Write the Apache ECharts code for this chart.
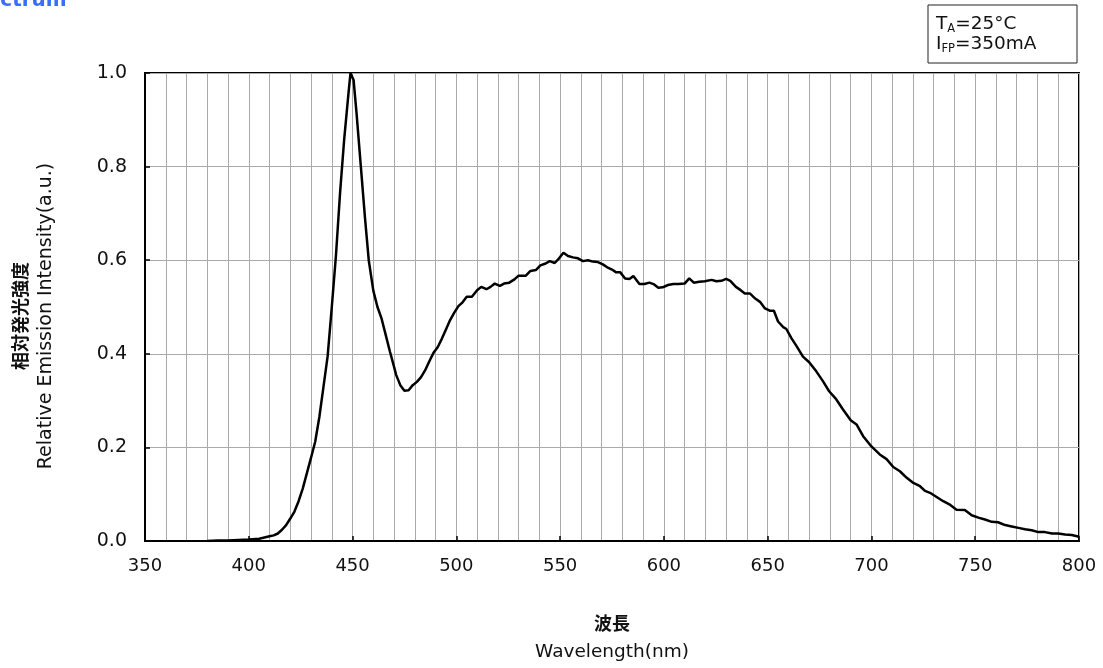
<!DOCTYPE html>
<html>
<head>
<meta charset="utf-8">
<script src="https://cdn.jsdelivr.net/npm/echarts@6/dist/echarts.min.js"></script>
<style>
html,body{margin:0;padding:0;background:#fff;}
#chart{width:1103px;height:668px;}
</style>
</head>
<body>
<div id="chart"></div>
<script>
// Wavelength (nm)
const wavelengths = [
380,385,390,395,400,405,408,410,412,414,416,418,420,422,424,426,428,430,432,434,436,438,440,442,444,446,448,449,450.5,452,454,456,457.8,460,462,464,466,468,470,471,473,475,477,479,481,483,485,487,489,491,493,495,497,499,501,503,505,507.5,510,512,514.5,516.5,518.5,521,523,525.5,528,530,533.5,535.7,538.3,540.5,543,545,547.4,549.5,551.6,553.8,556.2,558.6,561,563.4,565.8,568.2,570.6,573,575,577,579,581.3,583.4,585.3,588.2,590.6,593,595,597.3,599.4,602,604.5,607,610,612.2,614.4,617,619.7,623,625.3,627.7,630,632,634.7,637,639,641.4,644,646.3,648.7,651,653,655,657.5,659,661.5,664,667,670,673.5,676.7,679.6,683,686.3,690,692.8,696,700,704,707.3,710.5,713.7,717,720.2,723.4,725.8,728.2,731.4,734.6,738,741,745,748.3,751.5,754.7,758,761,764.4,767.6,770.8,774,777.2,780.4,783.6,787,790,793.3,796.5,800
];
// Relative emission intensity (a.u.)
const intensity = [
0.000,0.001,0.001,0.002,0.003,0.005,0.008,0.010,0.012,0.016,0.024,0.034,0.048,0.063,0.085,0.112,0.145,0.178,0.212,0.265,0.330,0.395,0.500,0.610,0.745,0.860,0.955,1.000,0.985,0.910,0.800,0.690,0.600,0.535,0.500,0.475,0.440,0.405,0.372,0.355,0.333,0.321,0.322,0.333,0.340,0.350,0.365,0.384,0.402,0.414,0.432,0.452,0.472,0.488,0.502,0.510,0.522,0.522,0.536,0.543,0.538,0.543,0.550,0.545,0.550,0.552,0.559,0.567,0.567,0.577,0.579,0.589,0.593,0.598,0.594,0.604,0.616,0.609,0.606,0.604,0.598,0.600,0.597,0.596,0.591,0.584,0.580,0.574,0.574,0.561,0.560,0.566,0.549,0.549,0.552,0.549,0.541,0.542,0.547,0.549,0.549,0.550,0.561,0.552,0.554,0.555,0.558,0.555,0.556,0.560,0.556,0.543,0.536,0.529,0.529,0.518,0.511,0.497,0.492,0.492,0.469,0.457,0.453,0.433,0.416,0.394,0.382,0.362,0.341,0.320,0.303,0.281,0.258,0.249,0.224,0.202,0.185,0.175,0.158,0.149,0.135,0.124,0.117,0.107,0.103,0.094,0.085,0.077,0.067,0.066,0.055,0.050,0.046,0.041,0.040,0.034,0.031,0.028,0.025,0.023,0.019,0.019,0.016,0.016,0.014,0.013,0.009
];
const xTicks = [350,400,450,500,550,600,650,700,750,800];
const yTicks = [0.0,0.2,0.4,0.6,0.8,1.0];

const seriesData = wavelengths.map((w, i) => [w, intensity[i]]);
const FONT = 'DejaVu Sans';
const JP = 'Noto Sans CJK JP';
const legendRich = {
  n: {fontFamily: FONT, fontSize: 18.5, fill: '#111', lineHeight: 22, verticalAlign: 'middle'},
  s: {fontFamily: FONT, fontSize: 11.5, fill: '#111', lineHeight: 12, verticalAlign: 'bottom'}
};
const chart = echarts.init(document.getElementById('chart'), null, {renderer: 'canvas'});
chart.setOption({
  animation: false,
  backgroundColor: '#fff',
  grid: {left: 145, right: 24, top: 73, bottom: 127, show: true, borderColor: '#000', borderWidth: 2, backgroundColor: 'transparent'},
  xAxis: {
    type: 'value', min: xTicks[0], max: xTicks[xTicks.length-1], interval: 50,
    axisLine: {show: true, lineStyle: {color: '#000', width: 2}},
    axisTick: {show: true, inside: true, length: 5, lineStyle: {color: '#000', width: 1.5}},
    minorTick: {show: false, splitNumber: 5},
    splitLine: {show: true, lineStyle: {color: '#aaaaaa', width: 1}},
    minorSplitLine: {show: true, lineStyle: {color: '#aaaaaa', width: 1}},
    axisLabel: {color: '#111', fontFamily: FONT, fontSize: 18, margin: 16},
    name: '{jp|波長}\n{en|Wavelength(nm)}',
    nameLocation: 'middle', nameGap: 68,
    nameTextStyle: {rich: {
      jp: {fontFamily: JP, fontSize: 18, fontWeight: 'bold', color: '#111', lineHeight: 29},
      en: {fontFamily: FONT, fontSize: 18.5, color: '#111', lineHeight: 29}
    }}
  },
  yAxis: {
    type: 'value', min: yTicks[0], max: yTicks[yTicks.length-1], interval: 0.2,
    axisLine: {show: true, lineStyle: {color: '#000', width: 2}},
    axisTick: {show: true, inside: true, length: 5, lineStyle: {color: '#000', width: 1.5}},
    splitLine: {show: true, lineStyle: {color: '#aaaaaa', width: 1}},
    axisLabel: {color: '#111', fontFamily: FONT, fontSize: 19, margin: 18, formatter: v => v.toFixed(1)},
    name: '{jp|相対発光強度}\n{en|Relative Emission Intensity(a.u.)}',
    nameLocation: 'middle', nameRotate: 90, nameGap: 86,
    nameTextStyle: {padding: [0, 18, 0, 0], rich: {
      jp: {fontFamily: JP, fontSize: 18, fontWeight: 'bold', color: '#111', lineHeight: 26},
      en: {fontFamily: FONT, fontSize: 19, color: '#111', lineHeight: 26}
    }}
  },
  series: [{
    type: 'line', data: seriesData, showSymbol: false, symbol: 'none', smooth: false,
    lineStyle: {color: '#000', width: 2.5}, z: 5
  }],
  graphic: [
    {type: 'text', left: -42, top: -9, style: {text: 'Spectrum', fill: '#3a6cff', font: 'bold 20px "DejaVu Sans"'}},
    {type: 'rect', shape: {x: 928, y: 5, width: 149, height: 58}, style: {fill: '#fff', stroke: '#222', lineWidth: 1}},
    {type: 'text', x: 936, y: 13, style: {text: '{n|T}{s|A}{n|=25°C}', rich: legendRich}},
    {type: 'text', x: 936, y: 33, style: {text: '{n|I}{s|FP}{n|=350mA}', rich: legendRich}}
  ]
});
</script>
</body>
</html>
